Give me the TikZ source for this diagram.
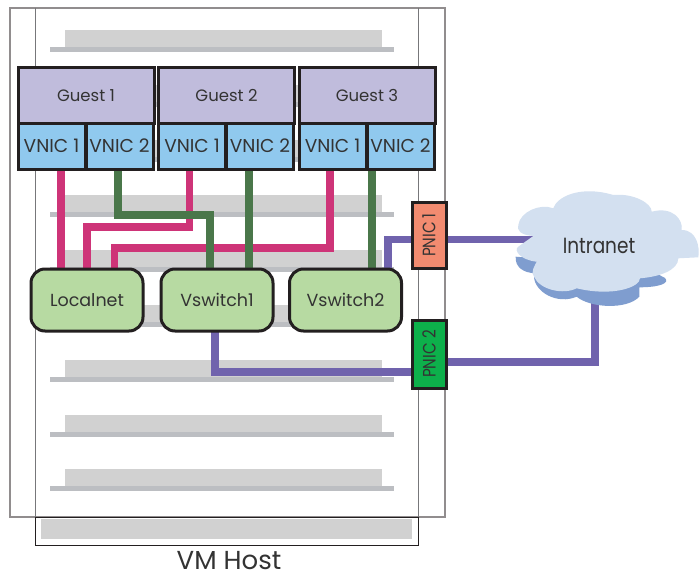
\documentclass[tikz,border=0pt]{standalone}
\usepackage{fontspec}
\setmainfont{Poppins}
\newfontfamily\narrowfont[FakeStretch=0.84]{Poppins}
\pgfdeclarelayer{backlayer}
\pgfdeclarelayer{linklayer}
\pgfsetlayers{backlayer,linklayer,main}
\definecolor{frameC}{HTML}{918D8E}
\definecolor{thinC}{HTML}{77777A}
\definecolor{shelfC}{HTML}{D1D1D1}
\definecolor{barC}{HTML}{BCBEC2}
\definecolor{guestC}{HTML}{C0BCDC}
\definecolor{vnicC}{HTML}{90C9EE}
\definecolor{swC}{HTML}{B7DAA2}
\definecolor{edgeC}{HTML}{231F20}
\definecolor{txtC}{HTML}{333333}
\definecolor{magC}{HTML}{CE3478}
\definecolor{grnC}{HTML}{4A774A}
\definecolor{purC}{HTML}{7063AD}
\definecolor{cloudC}{HTML}{D3E0F0}
\definecolor{cloudD}{HTML}{7F9DCF}
\definecolor{pnicA}{HTML}{F28B70}
\definecolor{pnicB}{HTML}{0DB04B}
\tikzset{
  x=1pt,y=-1pt,
  boxbase/.style={draw=edgeC,line width=3pt,inner sep=0pt,outer sep=0pt,text=txtC,font=\fontsize{16.5}{18}\selectfont},
  guestbox/.style={boxbase,fill=guestC,minimum width=136pt,minimum height=55pt},
  vnicbox/.style={boxbase,fill=vnicC,minimum width=67pt,minimum height=46pt,font=\fontsize{18.6}{21}\selectfont},
  swbox/.style={boxbase,fill=swC,rounded corners=14pt,minimum width=112pt,minimum height=62pt,font=\fontsize{17.5}{19}\selectfont},
  pnicbox/.style={boxbase,rotate=90,minimum height=34pt,font=\narrowfont\fontsize{18}{20}\selectfont},
  pinkline/.style={magC,line width=7.5pt},
  greenline/.style={grnC,line width=7.5pt},
  purpleline/.style={purC,line width=7.5pt},
}
\begin{document}
\begin{tikzpicture}
\useasboundingbox (0,0) rectangle (699,578);
\begin{pgfonlayer}{backlayer}
\fill[white] (0,0) rectangle (699,578);
% host frame
\draw[frameC,line width=2pt] (9.5,8) rectangle (444.5,517);
\draw[thinC,line width=1pt] (35.5,8) -- (35.5,517) (418.5,8) -- (418.5,517);
% shelves
\foreach \y in {30,85,140,195,250,305,360,415,469}{
  \fill[shelfC] (65,\y) rectangle (382,\y+18);
  \fill[barC] (50,\y+17) rectangle (394,\y+22);
}
% base
\draw[edgeC,line width=1pt,fill=white] (35.5,517) rectangle (418.5,545);
\fill[shelfC] (41,519) rectangle (412,539);
\end{pgfonlayer}
% cloud
\fill[cloudD] (515.7,256.7) .. controls (515,267) and (523,272.7) .. (535,273.3)
  -- (534,277) .. controls (535,292) and (557,305) .. (576.7,296.7)
  .. controls (590,308) and (627,310) .. (639.3,296.7) -- (639.3,287.3)
  .. controls (660,287.3) and (670,283) .. (665,278) -- (650,270) -- (560,260) -- cycle;
\fill[cloudC] (518.3,225) .. controls (520,212) and (540,203) .. (553.3,208.3)
  .. controls (556.7,197) and (580,185) .. (613.3,195)
  .. controls (633,193) and (651.7,203) .. (651.7,211.7)
  .. controls (673,206) and (683.3,220) .. (681.7,230)
  .. controls (696.7,230) and (700,247) .. (698.3,257.3)
  -- (678.3,258.3) .. controls (678.3,270) and (660,276.7) .. (640,278.3)
  .. controls (640,287) and (613.3,297) .. (576.7,288.3)
  .. controls (563.3,295) and (540,290) .. (534,276.7)
  .. controls (530,273) and (535,265) .. (536.7,261.7)
  .. controls (520,260) and (513.3,250) .. (518.3,246.7)
  -- (533.3,236) .. controls (520,235) and (516.7,230) .. (518.3,225) -- cycle;
% boxes
\node[guestbox] (g1) at (86,95.5) {Guest 1};
\node[guestbox] (g2) at (226.5,95.5) {Guest 2};
\node[guestbox] (g3) at (367,95.5) {Guest 3};
\node[vnicbox] (v11) at (51.5,146) {VNIC 1};
\node[vnicbox] (v12) at (119.5,146) {VNIC 2};
\node[vnicbox] (v21) at (192,146) {VNIC 1};
\node[vnicbox] (v22) at (260,146) {VNIC 2};
\node[vnicbox] (v31) at (332.5,146) {VNIC 1};
\node[vnicbox] (v32) at (400.5,146) {VNIC 2};
\node[swbox] (local) at (87,300) {Localnet};
\node[swbox] (sw1) at (217,300) {Vswitch1};
\node[swbox] (sw2) at (345.5,300) {Vswitch2};
\node[pnicbox,fill=pnicA,minimum width=66pt] (p1) at (429,235) {PNIC 1};
\node[pnicbox,fill=pnicB,minimum width=68pt] (p2) at (429,354) {PNIC 2};
\node[inner sep=0pt,text=txtC,font=\narrowfont\fontsize{22}{24}\selectfont] (intranet) at (599,246) {Intranet};
\node[inner sep=0pt,text=txtC,font=\fontsize{26}{28}\selectfont] (host) at (229,561) {VM Host};
% connectors
\begin{pgfonlayer}{linklayer}
\draw[pinkline] ([xshift=9.5pt]v11.south) -- ([xshift=-26pt]local.north);
\draw[pinkline] ([xshift=-2.5pt]v21.south) -- ++(0,58) -| (local.north);
\draw[pinkline] ([xshift=-2.5pt]v31.south) -- ++(0,79) -| ([xshift=27.5pt]local.north);
\draw[greenline] ([xshift=-1.5pt]v12.south) -- ++(0,46) -| ([xshift=-7pt]sw1.north);
\draw[greenline] ([xshift=-11pt]v22.south) -- ([xshift=32pt]sw1.north);
\draw[greenline] ([xshift=-28.5pt]v32.south) -- ([xshift=26.5pt]sw2.north);
\draw[purpleline] ([xshift=42.5pt]sw2.north) |- ([yshift=-4.5pt]p1.north);
\draw[purpleline] ([yshift=-4.5pt]p1.south) -- (intranet.west |- 0,239.5);
\draw[purpleline] (sw1.south) ++(-2,0) |- ([yshift=-18pt]p2.north);
\draw[purpleline] ([yshift=-8pt]p2.south) -| (intranet.south -| 595,0);
\end{pgfonlayer}
\end{tikzpicture}
\end{document}
